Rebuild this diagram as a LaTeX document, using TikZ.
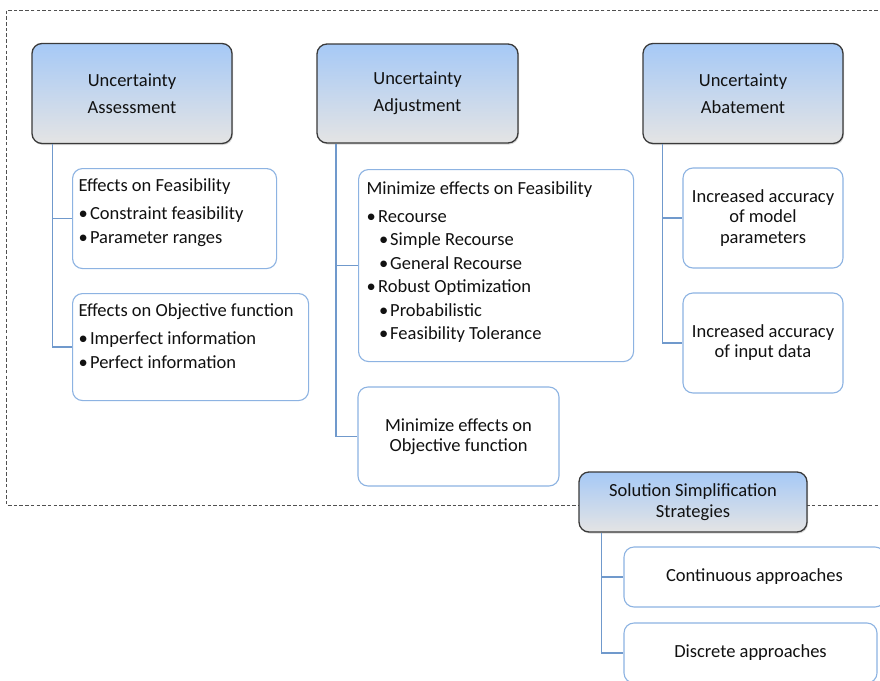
\documentclass[tikz,border=0pt]{standalone}
\usepackage{fontspec}
\setmainfont{Carlito}
\usetikzlibrary{shadows}
\definecolor{hdrtop}{HTML}{A6C9F6}
\definecolor{hdrbot}{HTML}{E4E4E4}
\definecolor{hdrline}{HTML}{3A3A3A}
\definecolor{kidline}{HTML}{8DB3E2}
\definecolor{connline}{HTML}{7099CC}
\definecolor{txt}{HTML}{111111}
\definecolor{dashc}{HTML}{505050}
\tikzset{
  hdr/.style={draw=hdrline, line width=1.3pt, rounded corners=10pt,
    top color=hdrtop, bottom color=hdrbot, align=center, text=txt,
    font=\fontsize{18.5}{27}\selectfont,
    drop shadow={shadow xshift=1pt, shadow yshift=-1.5pt, opacity=0.3}},
  kid/.style={draw=kidline, line width=1.1pt, rounded corners=10pt, fill=white,
    text=txt, inner sep=0pt},
  kidc/.style={draw=kidline, line width=1.1pt, rounded corners=10pt, fill=white,
    text=txt, align=center, font=\fontsize{18.5}{20.5}\selectfont},
  conn/.style={draw=connline, line width=1.3pt},
  dashframe/.style={draw=dashc, line width=1pt, dash pattern=on 3.5pt off 2.2pt}
}
\newcommand{\bul}[1]{\makebox[#1][l]{\textbullet}}
\begin{document}
\begin{tikzpicture}[x=1pt,y=-1pt]
\useasboundingbox (0,0) rectangle (880,680);
\fill[white] (0,0) rectangle (880,680);
\clip (0,0) rectangle (880,680);

% dashed frame
\draw[dashframe] (895,10) -- (6.5,10) -- (6.5,505) -- (895,505);

% headers
\node[hdr, minimum width=200pt, minimum height=100pt] (h1) at (132,93.5) {Uncertainty\\Assessment};
\node[hdr, minimum width=201pt, minimum height=99pt] (h2) at (417.5,93.5) {Uncertainty\\Adjustment};
\node[hdr, minimum width=200pt, minimum height=100pt] (h3) at (743,93.5) {Uncertainty\\Abatement};
\node[hdr, minimum width=228pt, minimum height=60pt, font=\fontsize{18.5}{20.5}\selectfont] (h4) at (693,502) {Solution Simplification\\Strategies};

% assessment children
\node[kid, anchor=north west] (ef) at (72,168) {\parbox[c][100pt][t]{204pt}{\fontsize{18.5}{24}\selectfont\raggedright\leftskip=6pt
\rule{0pt}{23pt}Effects on Feasibility\par\vspace{4pt}
\bul{11.5pt}Constraint feasibility\par
\bul{11.5pt}Parameter ranges}};
\node[kid, anchor=north west] (eo) at (72,293) {\parbox[c][107pt][t]{236pt}{\fontsize{18.5}{24}\selectfont\raggedright\leftskip=6pt
\rule{0pt}{23pt}Effects on Objective function\par\vspace{4pt}
\bul{11.5pt}Imperfect information\par
\bul{11.5pt}Perfect information}};

% adjustment children
\node[kid, anchor=north west] (mf) at (358,169) {\parbox[c][192pt][t]{275pt}{\fontsize{18.5}{23.5}\selectfont\raggedright\leftskip=8pt
\rule{0pt}{24.5pt}Minimize effects on Feasibility\par\vspace{4.5pt}
\bul{11.7pt}Recourse\par
\hspace*{12.5pt}\bul{11.2pt}Simple Recourse\par
\hspace*{12.5pt}\bul{11.2pt}General Recourse\par
\bul{11.7pt}Robust Optimization\par
\hspace*{12.5pt}\bul{11.2pt}Probabilistic\par
\hspace*{12.5pt}\bul{11.2pt}Feasibility Tolerance}};
\node[kidc, minimum width=201pt, minimum height=99pt, font=\fontsize{18.5}{20}\selectfont] (mo) at (458.5,436.5) {Minimize effects on\\Objective function};

% abatement children
\node[kidc, minimum width=160pt, minimum height=100pt] (am) at (763,218) {Increased accuracy\\of model\\parameters};
\node[kidc, minimum width=160pt, minimum height=100pt, font=\fontsize{18.5}{20}\selectfont] (ai) at (763,343) {Increased accuracy\\of input data};

% solution children
\node[kidc, minimum width=261pt, minimum height=60pt] (sc) at (754.5,577) {Continuous approaches};
\node[kidc, minimum width=253pt, minimum height=60pt] (sd) at (750.5,653) {Discrete approaches};

% connectors
\draw[conn] ([xshift=21pt]h1.south west) |- (ef.west);
\draw[conn] ([xshift=21pt]h1.south west) |- (eo.west);
\draw[conn] ([xshift=19.5pt]h2.south west) |- (mf.west);
\draw[conn] ([xshift=19.5pt]h2.south west) |- (mo.west);
\draw[conn] ([xshift=20pt]h3.south west) |- (am.west);
\draw[conn] ([xshift=20pt]h3.south west) |- (ai.west);
\draw[conn] ([xshift=23pt]h4.south west) |- (sc.west);
\draw[conn] ([xshift=23pt]h4.south west) |- (sd.west);
\end{tikzpicture}
\end{document}
